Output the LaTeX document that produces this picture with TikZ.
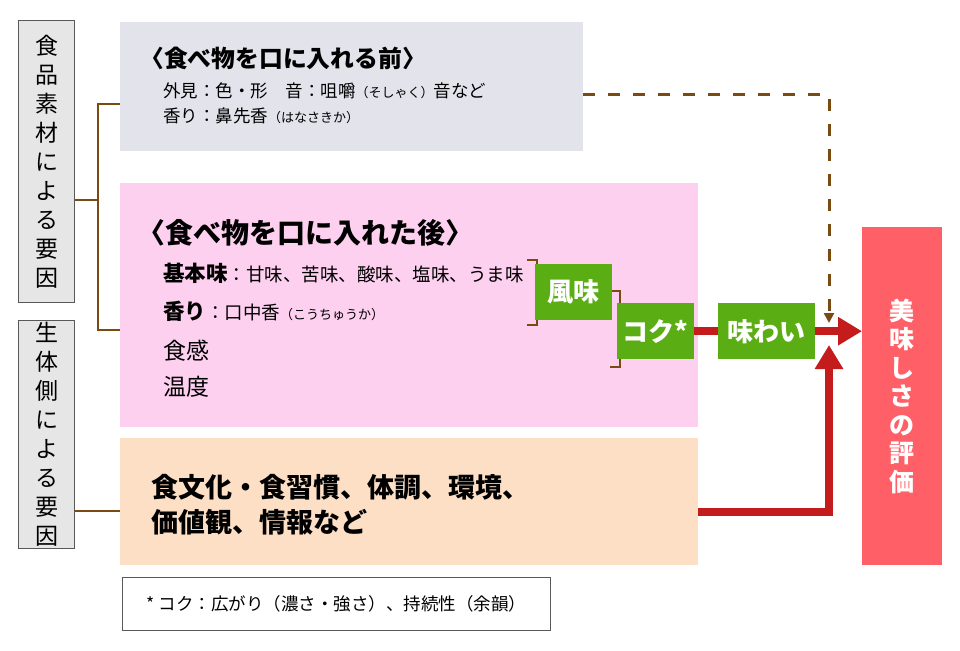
\documentclass[tikz,border=0pt]{standalone}
\usepackage{fontspec}
\setmainfont{Noto Sans CJK JP}
\usepackage{tikz}
\usetikzlibrary{arrows.meta,positioning}
\definecolor{beforegray}{HTML}{E3E3EC}
\definecolor{afterpink}{HTML}{FDD0F0}
\definecolor{culturepeach}{HTML}{FDDFC6}
\definecolor{evalred}{HTML}{FF5F67}
\definecolor{tastegreen}{HTML}{5AAE14}
\definecolor{arrowred}{HTML}{C41C1C}
\definecolor{linkbrown}{HTML}{7B4A12}
\definecolor{factorgray}{HTML}{E6E6E6}
\newcommand*\reading[1]{{\fontsize{13}{15}\selectfont #1}}
\tikzset{
    factor/.style    = {draw=gray!70!black, fill=factorgray, line width=1pt,
                        anchor=north west, inner sep=0pt, minimum width=56pt,
                        align=center, font=\fontsize{23}{29}\selectfont},
    area/.style      = {anchor=north west, inner sep=0pt},
    title/.style     = {anchor=west, inner sep=0pt, font=\bfseries\fontsize{23.8}{28}\selectfont},
    item/.style      = {anchor=west, inner sep=0pt, font=\fontsize{17.5}{20}\selectfont},
    tastebox/.style  = {fill=tastegreen, text=white, anchor=north west, inner sep=0pt,
                        minimum height=56pt, font=\bfseries\fontsize{26}{30}\selectfont},
    link/.style      = {draw=linkbrown, line width=2.5pt},
    dashlink/.style  = {draw=linkbrown, line width=3pt, dash pattern=on 12pt off 13pt,
                        -{Triangle[width=10pt,length=10pt]}},
    tasteline/.style = {draw=arrowred, line width=8pt},
    tastearrow/.style= {tasteline, -{Triangle[width=27pt,length=24pt]}},
}
\begin{document}
\begin{tikzpicture}[x=1pt,y=-1pt]
  \useasboundingbox (0,0) rectangle (960,650);

  % factors on the left
  \node[factor, minimum height=282pt] (food) at (18,20) {食\\品\\素\\材\\に\\よ\\る\\要\\因};
  \node[factor, minimum height=228pt] (body) at (18,320) {生\\体\\側\\に\\よ\\る\\要\\因};

  % stages
  \node[area, fill=beforegray, minimum width=463pt, minimum height=129pt] (before) at (120,22) {};
  \node[area, fill=afterpink, minimum width=578pt, minimum height=244pt] (after) at (120,183) {};
  \node[area, fill=culturepeach, minimum width=578pt, minimum height=127pt] (culture) at (120,438) {};
  \node[area, draw=gray!70!black, line width=1.2pt, fill=white,
        minimum width=428pt, minimum height=53pt] (note) at (122,577) {};

  % evaluation
  \node[area, fill=evalred, text=white, minimum width=80pt, minimum height=338pt,
        align=center, font=\bfseries\fontsize{25}{28.5}\selectfont] (eval) at (862,227)
        {美\\味\\し\\さ\\の\\評\\価};

  % texts before eating
  \node[title] (beforetitle) at (140,58) {〈食べ物を口に入れる前〉};
  \node[item] (look) at (163,91) {外見：色・形　音：咀嚼\reading{（そしゃく）}音など};
  \node[item] (smell) at (163,116) {香り：鼻先香\reading{（はなさきか）}};

  % texts after eating
  \node[title, font=\bfseries\fontsize{28}{32}\selectfont] (aftertitle) at (137,233) {〈食べ物を口に入れた後〉};
  \node[item, font=\fontsize{18.5}{21}\selectfont] (basic) at (163,273)
       {{\bfseries\fontsize{21.5}{24}\selectfont 基本味}：甘味、苦味、酸味、塩味、うま味};
  \node[item, font=\fontsize{18.5}{21}\selectfont] (aroma) at (163,311)
       {{\bfseries\fontsize{21.5}{24}\selectfont 香り}：口中香\reading{（こうちゅうか）}};
  \node[item, font=\fontsize{23}{26}\selectfont] (texture) at (163,351) {食感};
  \node[item, font=\fontsize{23}{26}\selectfont] (temp) at (163,387) {温度};

  % body side
  \node[item, align=left, font=\bfseries\fontsize{27}{35}\selectfont] (culturetext) at (151,505)
       {食文化・食習慣、体調、環境、\\価値観、情報など};
  \node[font=\fontsize{17.5}{20}\selectfont] (notetext) at (note.center) {* コク：広がり（濃さ・強さ）、持続性（余韻）};

  % brackets
  \draw[link] (527,260) -- (537,260) -- (537,325) -- (527,325);
  \draw[link] (610,291) -- (620,291) -- (620,367) -- (610,367);

  % taste boxes
  \node[tastebox, minimum width=77pt] (fumi) at (535,264) {風味};
  \node[tastebox, minimum width=77pt] (koku) at (617,303) {コク*};
  \node[tastebox, minimum width=97pt] (ajiwai) at (718,303) {味わい};

  % connectors
  \coordinate (fork) at (98,200);
  \draw[link] (food.east |- fork) -- (fork);
  \draw[link] (before.west |- 0,104) -| (fork) |- (after.west |- 0,330);
  \draw[link] (body.east |- 0,511) -- (culture.west |- 0,511);

  \coordinate (dashend) at (829,323);
  \draw[dashlink] ([yshift=-8pt]before.east) -| (dashend);

  \coordinate (merge) at (829,345);
  \draw[tasteline] (koku.east) -- (ajiwai.west);
  \draw[tastearrow] (ajiwai.east) -- (eval.west |- ajiwai.east);
  \draw[tastearrow] ([yshift=-10pt]culture.east) -| (merge);
\end{tikzpicture}
\end{document}
